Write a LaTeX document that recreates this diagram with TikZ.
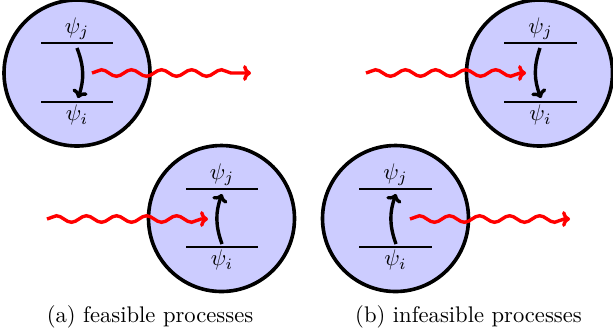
\documentclass[tikz,border=0pt]{standalone}
\usetikzlibrary{decorations.pathmorphing,arrows.meta}
\begin{document}
\begin{tikzpicture}[x=0.4425pt,y=-0.4425pt,
  atom/.style={circle,draw=black,line width=1.6pt,fill=blue!20,inner sep=0pt,minimum size=64.6pt},
  level/.style={line width=0.8pt},
  trans/.style={line width=1.5pt,-{To[length=3.5pt,width=7pt]}},
  photon/.style={red,line width=1.5pt,-{To[length=3.5pt,width=7pt]},decorate,
    decoration={snake,amplitude=1.45pt,segment length=13.3pt,post length=2.5pt}},
  lbl/.style={inner sep=0.8pt}]
\useasboundingbox (0,0) rectangle (613,335);
% atoms
\node[atom] (A1) at (77,73) {};
\node[atom] (A2) at (539.5,73) {};
\node[atom] (A3) at (221.5,218.5) {};
\node[atom] (A4) at (395.5,218.5) {};
% levels atom 1
\coordinate (u1l) at (41,43); \coordinate (u1r) at (113,43);
\coordinate (l1l) at (41,102); \coordinate (l1r) at (113,102);
\draw[level] (u1l) -- (u1r); \draw[level] (l1l) -- (l1r);
\node[lbl,anchor=south] (j1) at (77,42) {$\psi_j$};
\node[lbl,anchor=north] (i1) at (77,103) {$\psi_i$};
\coordinate (s1) at (77,48); \coordinate (e1) at (78,98);
\draw[trans] (s1) to[bend left=20] (e1);
% levels atom 2
\coordinate (u2l) at (504,43); \coordinate (u2r) at (577,43);
\coordinate (l2l) at (504,102); \coordinate (l2r) at (577,102);
\draw[level] (u2l) -- (u2r); \draw[level] (l2l) -- (l2r);
\node[lbl,anchor=south] (j2) at (540.5,42) {$\psi_j$};
\node[lbl,anchor=north] (i2) at (540.5,103) {$\psi_i$};
\coordinate (s2) at (540,48); \coordinate (e2) at (541,98);
\draw[trans] (s2) to[bend right=20] (e2);
% levels atom 3
\coordinate (u3l) at (186,189); \coordinate (u3r) at (258,189);
\coordinate (l3l) at (186,247); \coordinate (l3r) at (258,247);
\draw[level] (u3l) -- (u3r); \draw[level] (l3l) -- (l3r);
\node[lbl,anchor=south] (j3) at (222,188) {$\psi_j$};
\node[lbl,anchor=north] (i3) at (222,248) {$\psi_i$};
\coordinate (s3) at (222,244); \coordinate (e3) at (222,194);
\draw[trans] (s3) to[bend left=20] (e3);
% levels atom 4
\coordinate (u4l) at (359,189); \coordinate (u4r) at (432,189);
\coordinate (l4l) at (359,247); \coordinate (l4r) at (432,247);
\draw[level] (u4l) -- (u4r); \draw[level] (l4l) -- (l4r);
\node[lbl,anchor=south] (j4) at (395.5,188) {$\psi_j$};
\node[lbl,anchor=north] (i4) at (395.5,248) {$\psi_i$};
\coordinate (s4) at (396,244); \coordinate (e4) at (396,194);
\draw[trans] (s4) to[bend left=20] (e4);
% photons
\coordinate (p1a) at (92,73); \coordinate (p1b) at (251,73);
\draw[photon] (p1a) -- (p1b);
\coordinate (p2a) at (366,73); \coordinate (p2b) at (526,73);
\draw[photon] (p2a) -- (p2b);
\coordinate (p3a) at (47,219); \coordinate (p3b) at (208,219);
\draw[photon] (p3a) -- (p3b);
\coordinate (p4a) at (410,219); \coordinate (p4b) at (570,219);
\draw[photon] (p4a) -- (p4b);
% captions
\node[anchor=base] (ca) at (150,322) {(a) feasible processes};
\node[anchor=base] (cb) at (468.5,322) {(b) infeasible processes};
\end{tikzpicture}
\end{document}
